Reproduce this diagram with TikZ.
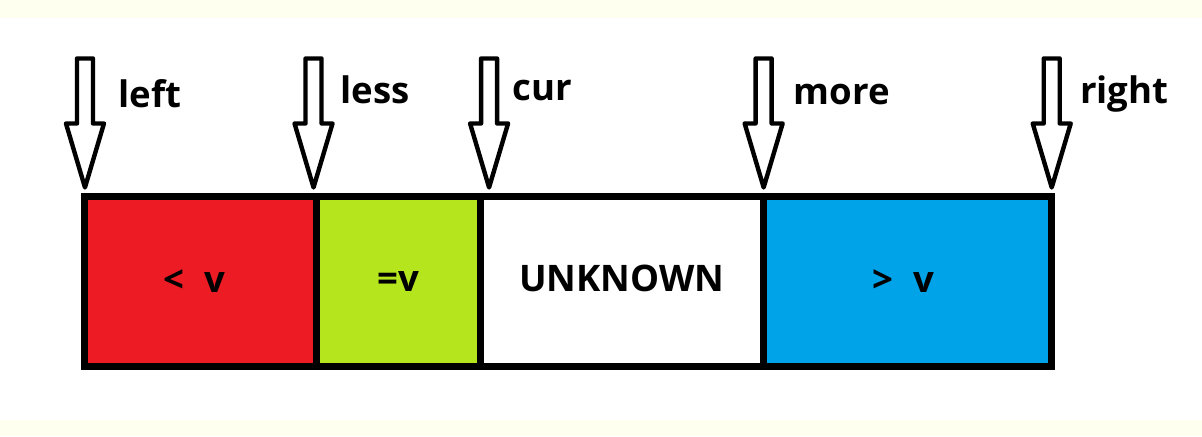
\documentclass[tikz,border=0pt]{standalone}
\usepackage{fontspec}
\setmainfont{Open Sans}
\usepackage{tikz}
\usetikzlibrary{calc}
\usetikzlibrary{positioning}

\definecolor{paintred}{HTML}{ED1C24}
\definecolor{paintlime}{HTML}{B5E61D}
\definecolor{paintblue}{HTML}{00A2E8}
\definecolor{paper}{HTML}{FFFFF0}

\tikzset{
  cell/.style={draw, line width=0.175cm, outer sep=0pt, minimum height=4.25cm,
    font=\fontsize{26}{30}\selectfont\bfseries},
  lbl/.style={anchor=base west, inner sep=0pt, font=\fontsize{26}{30}\selectfont\bfseries},
  ptr/.pic={
    \draw [line width=0.11cm, line join=round, fill=white]
    (-8,-64) -- (-8,-129) -- (8,-129) -- (8,-64)
    -- (19,-64) -- (0,0) -- (-19,-64) -- cycle;
  }
}

\begin{document}
\begin{tikzpicture}[x=0.025cm, y=-0.025cm]

    \useasboundingbox (0,0) rectangle (1202,436);
    \fill [white] (0,0) rectangle (1202,436);
    \fill [paper] (0,0) rectangle (1202,18);
    \fill [paper] (0,420) rectangle (1202,436);

    % the four parts of the array
    \node [cell, fill=paintred, minimum width=5.7875cm] (lt) at (200.75,281.5)
    {\hspace{-0.3cm}<\hspace{0.55em}v};
    \node [cell, fill=paintlime, minimum width=4.0875cm, right=0pt of lt] (eq) {=v};
    \node [cell, fill=white, minimum width=7.0875cm, right=0pt of eq] (unk)
    {\raisebox{0.18cm}{UNKNOWN}};
    \node [cell, fill=paintblue, minimum width=7.2cm, right=0pt of unk] (gt)
    {\hspace{-0.2cm}>\hspace{0.55em}v};

    % pointers
    \coordinate (pleft) at ([yshift=0.225cm]lt.north west);
    \coordinate (pless) at ([xshift=-0.075cm, yshift=0.225cm]lt.north east);
    \coordinate (pcur) at ([xshift=0.225cm, yshift=0.225cm]eq.north east);
    \coordinate (pmore) at ([yshift=0.225cm]unk.north east);
    \coordinate (pright) at ([yshift=0.225cm]gt.north east);

    \pic at (pleft) {ptr};
    \pic at (pless) {ptr};
    \pic at (pcur) {ptr};
    \pic at (pmore) {ptr};
    \pic at (pright) {ptr};

    \node [lbl] (tleft) at ($(pleft)+(33,-80)$) {left};
    \node [lbl] (tless) at ($(pless)+(27,-84)$) {less};
    \node [lbl] (tcur) at ($(pcur)+(23,-87)$) {cur};
    \node [lbl] (tmore) at ($(pmore)+(30,-83)$) {more};
    \node [lbl] (tright) at ($(pright)+(28,-84)$) {right};

  \end{tikzpicture}
\end{document}
